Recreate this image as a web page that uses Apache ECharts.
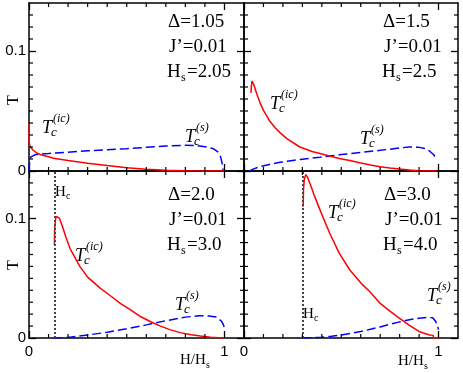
<!DOCTYPE html>
<html>
<head>
<meta charset="utf-8">
<script src="https://cdn.jsdelivr.net/npm/echarts@6/dist/echarts.min.js"></script>
<style>
html, body { margin: 0; padding: 0; background: #fff; }
#chart { width: 463px; height: 373px; }
</style>
</head>
<body>
<div id="chart"></div>
<script>
// panel parameters
const deltaValues = ['1.05', '1.5', '2.0', '3.0']
const jPrimeValues = ['0.01', '0.01', '0.01', '0.01']
const hsValues = ['2.05', '2.5', '3.0', '4.0']
const hcValues = [null, null, 0.125, 0.30]

// tick labels and minor tick positions
const xTickLabels = [0, 1]
const yTickLabels = [0, 0.1]
const xMinorTicks = [0.1, 0.2, 0.3, 0.4, 0.5, 0.6, 0.7, 0.8, 0.9]
const yMinorTicks = [0.01, 0.02, 0.03, 0.04, 0.05, 0.06, 0.07, 0.08, 0.09, 0.11, 0.12, 0.13]

// T_c^(ic) curves, [H/Hs, T]
const icPanel1 = [[0, 0.040], [0.001, 0.024], [0.005, 0.0205], [0.02, 0.0175], [0.04, 0.015], [0.06, 0.0135], [0.1, 0.0118], [0.125, 0.0107], [0.2, 0.0088], [0.3, 0.0064], [0.4, 0.0045], [0.5, 0.0028], [0.6, 0.0015], [0.7, 0.0006], [0.8, 0.0002], [0.9, 0], [1.0, 0]]
const icPanel2 = [[0.036, 0.065], [0.038, 0.071], [0.041, 0.075], [0.05, 0.072], [0.065, 0.0645], [0.082, 0.057], [0.1, 0.0505], [0.133, 0.0414], [0.16, 0.036], [0.185, 0.032], [0.22, 0.027], [0.287, 0.020], [0.35, 0.0162], [0.44, 0.0125], [0.49, 0.0105], [0.544, 0.0088], [0.595, 0.0068], [0.65, 0.005], [0.70, 0.0036], [0.75, 0.0025], [0.80, 0.0016], [0.85, 0.0008], [0.90, 0.0003], [0.95, 0.0001], [0.99, 0]]
const icPanel3 = [[0.13, 0.078], [0.131, 0.09], [0.135, 0.099], [0.14, 0.102], [0.145, 0.1025], [0.155, 0.1005], [0.168, 0.095], [0.19, 0.084], [0.21, 0.075], [0.26, 0.060], [0.3, 0.051], [0.364, 0.0418], [0.42, 0.035], [0.467, 0.029], [0.52, 0.0235], [0.57, 0.018], [0.62, 0.0138], [0.67, 0.0102], [0.72, 0.0070], [0.774, 0.0045], [0.83, 0.0028], [0.877, 0.0016], [0.93, 0.0007], [0.97, 0.0002], [1.0, 0]]
const icPanel4 = [[0.304, 0.110], [0.306, 0.125], [0.31, 0.133], [0.318, 0.137], [0.326, 0.135], [0.338, 0.130], [0.36, 0.12], [0.39, 0.1076], [0.44, 0.088], [0.49, 0.071], [0.544, 0.057], [0.61, 0.0445], [0.646, 0.039], [0.70, 0.029], [0.75, 0.0225], [0.80, 0.0165], [0.85, 0.0105], [0.90, 0.0055], [0.93, 0.0038], [0.955, 0.0025], [0.972, 0.0022], [0.975, 0], [1.0, 0]]

// T_c^(s) curves, [H/Hs, T]
const sPanel1 = [[0, 0], [0.003, 0.008], [0.01, 0.0118], [0.03, 0.0135], [0.06, 0.0142], [0.1, 0.0146], [0.2, 0.0157], [0.3, 0.0168], [0.4, 0.0177], [0.5, 0.0186], [0.6, 0.0197], [0.7, 0.0208], [0.8, 0.0214], [0.85, 0.0212], [0.9, 0.0203], [0.94, 0.0188], [0.965, 0.0162], [0.98, 0.012], [0.99, 0.005], [0.993, 0]]
const sPanel2 = [[0.027, 0], [0.05, 0.0018], [0.082, 0.0036], [0.13, 0.0055], [0.185, 0.0072], [0.25, 0.0088], [0.3, 0.0098], [0.39, 0.0114], [0.44, 0.0125], [0.5, 0.0137], [0.6, 0.0155], [0.7, 0.0172], [0.8, 0.0192], [0.85, 0.0200], [0.9, 0.0197], [0.93, 0.0187], [0.955, 0.0165], [0.975, 0.0135], [0.99, 0.010]]
const sPanel3 = [[0.125, 0], [0.2, 0.0005], [0.3, 0.0025], [0.4, 0.0048], [0.5, 0.0078], [0.6, 0.0110], [0.7, 0.0145], [0.8, 0.0175], [0.87, 0.0186], [0.92, 0.0185], [0.96, 0.0175], [0.985, 0.014], [0.995, 0.011], [1.0, 0.008]]
const sPanel4 = [[0.30, 0], [0.35, 0.0002], [0.4, 0.0007], [0.45, 0.0015], [0.5, 0.0026], [0.55, 0.004], [0.6, 0.0055], [0.65, 0.0073], [0.7, 0.0093], [0.75, 0.0115], [0.8, 0.0135], [0.85, 0.0153], [0.9, 0.0166], [0.94, 0.0172], [0.97, 0.017], [0.985, 0.014], [0.995, 0.01], [1.0, 0.007]]

const icData = [icPanel1, icPanel2, icPanel3, icPanel4]
const sData = [sPanel1, sPanel2, sPanel3, sPanel4]

const serif = 'Liberation Serif'
const sans = 'Liberation Sans'
const minorLen = 4

const grids = [
  { left: 29, top: 3, width: 215, height: 168 },
  { left: 244, top: 3, width: 214, height: 168 },
  { left: 29, top: 171, width: 215, height: 167 },
  { left: 244, top: 171, width: 214, height: 167 }
]

// axis: line, long ticks and labels at the labelled values
function makeAxis (kind, gi, position, showLabel) {
  const isX = kind === 'x'
  return {
    type: 'value',
    gridIndex: gi,
    position: position,
    min: 0,
    max: isX ? 1.1 : 0.14,
    interval: isX ? 1 : 0.1,
    axisLine: { show: true, onZero: false, lineStyle: { color: '#000', width: 1.5 } },
    axisTick: { show: true, inside: true, length: 7, customValues: isX ? xTickLabels : yTickLabels, lineStyle: { color: '#000', width: 1.3 } },
    splitLine: { show: false },
    axisLabel: {
      show: showLabel,
      customValues: isX ? xTickLabels : yTickLabels,
      margin: isX ? 6 : 3,
      color: '#000',
      fontFamily: sans,
      fontSize: 15,
      formatter: function (v) { return String(Math.round(v * 100) / 100) }
    }
  }
}

// short minor ticks on both opposite edges, placed through the axis scale
function minorTickSeries (i, isX) {
  const values = isX ? xMinorTicks : yMinorTicks
  return {
    type: 'custom',
    xAxisIndex: 2 * i,
    yAxisIndex: 2 * i,
    silent: true,
    clip: false,
    z: 5,
    data: values.map(function (v) { return isX ? [v, 0] : [0, v] }),
    renderItem: function (params, api) {
      const cs = params.coordSys
      const p = api.coord([api.value(0), api.value(1)])
      const style = { stroke: '#000', lineWidth: 1.2 }
      let a, b
      if (isX) {
        const y0 = cs.y + cs.height
        a = { x1: p[0], y1: y0, x2: p[0], y2: y0 - minorLen }
        b = { x1: p[0], y1: cs.y, x2: p[0], y2: cs.y + minorLen }
      } else {
        const x1 = cs.x + cs.width
        a = { x1: cs.x, y1: p[1], x2: cs.x + minorLen, y2: p[1] }
        b = { x1: x1, y1: p[1], x2: x1 - minorLen, y2: p[1] }
      }
      return {
        type: 'group',
        children: [
          { type: 'line', shape: a, style: style },
          { type: 'line', shape: b, style: style }
        ]
      }
    }
  }
}

const xAxes = []
const yAxes = []
const series = []
grids.forEach(function (g, i) {
  const bottomRow = i >= 2
  const leftCol = i % 2 === 0
  xAxes.push(makeAxis('x', i, 'bottom', bottomRow), makeAxis('x', i, 'top', false))
  yAxes.push(makeAxis('y', i, 'left', leftCol), makeAxis('y', i, 'right', false))

  const blue = {
    type: 'line',
    xAxisIndex: 2 * i,
    yAxisIndex: 2 * i,
    data: sData[i],
    showSymbol: false,
    lineStyle: { color: '#0000ff', width: 1.5, type: [9, 4] },
    z: 3
  }
  if (hcValues[i] !== null) {
    blue.markLine = {
      silent: true,
      symbol: ['none', 'none'],
      label: { show: false },
      lineStyle: { color: '#444', type: [2, 2], width: 2 },
      data: [{ xAxis: hcValues[i] }]
    }
  }
  series.push(blue)
  series.push({
    type: 'line',
    xAxisIndex: 2 * i,
    yAxisIndex: 2 * i,
    data: icData[i],
    showSymbol: false,
    lineStyle: { color: '#ff0000', width: 1.5 },
    z: 4
  })
  series.push(minorTickSeries(i, true), minorTickSeries(i, false))
})

function txt (x, y, text, size, extra) {
  return {
    type: 'text',
    x: x,
    y: y,
    style: Object.assign({
      text: text,
      fontSize: size,
      fontFamily: serif,
      fill: '#000',
      align: 'left',
      verticalAlign: 'middle'
    }, extra || {})
  }
}

// T_c with sub/superscript
function tcLabel (x, y, sup) {
  return [
    txt(x, y, 'T', 18, { fontStyle: 'italic' }),
    txt(x + 9, y + 5, 'c', 13, { fontStyle: 'italic' }),
    txt(x + 11, y - 9, '(' + sup + ')', 12, { fontStyle: 'italic' })
  ]
}

// Δ, J', Hs block
function paramBlock (x, y, i) {
  return [
    txt(x, y, 'Δ=' + deltaValues[i], 19),
    txt(x + 1, y + 25, 'J’=' + jPrimeValues[i], 19),
    txt(x - 1, y + 50, 'H', 19),
    txt(x + 13, y + 56, 's', 12),
    txt(x + 19, y + 50, '=' + hsValues[i], 19)
  ]
}

let graphics = []
graphics = graphics.concat(paramBlock(168, 22, 0), paramBlock(383, 22, 1), paramBlock(168, 195, 2), paramBlock(384, 195, 3))
graphics = graphics.concat(
  tcLabel(42, 128, 'ic'), tcLabel(185, 137, 's'),
  tcLabel(270, 104, 'ic'), tcLabel(360, 139, 's'),
  tcLabel(75, 256, 'ic'), tcLabel(175, 305, 's'),
  tcLabel(328, 213, 'ic'), tcLabel(427, 296, 's')
)
// y axis name "T"
graphics.push(txt(14, 100, 'T', 16, { align: 'center' }))
graphics[graphics.length - 1].rotation = Math.PI / 2
graphics.push(txt(14, 265, 'T', 16, { align: 'center' }))
graphics[graphics.length - 1].rotation = Math.PI / 2
// x axis name H/Hs
graphics.push(txt(180, 360, 'H/H', 15), txt(206, 365, 's', 10))
graphics.push(txt(398, 361, 'H/H', 15), txt(424, 366, 's', 10))
// Hc labels
graphics.push(txt(55, 192, 'H', 15), txt(66, 196, 'c', 10))
graphics.push(txt(303, 314, 'H', 15), txt(314, 318, 'c', 10))

const myChart = echarts.init(document.getElementById('chart'))
myChart.setOption({
  animation: false,
  backgroundColor: '#fff',
  grid: grids,
  xAxis: xAxes,
  yAxis: yAxes,
  series: series,
  graphic: graphics
})
</script>
</body>
</html>
